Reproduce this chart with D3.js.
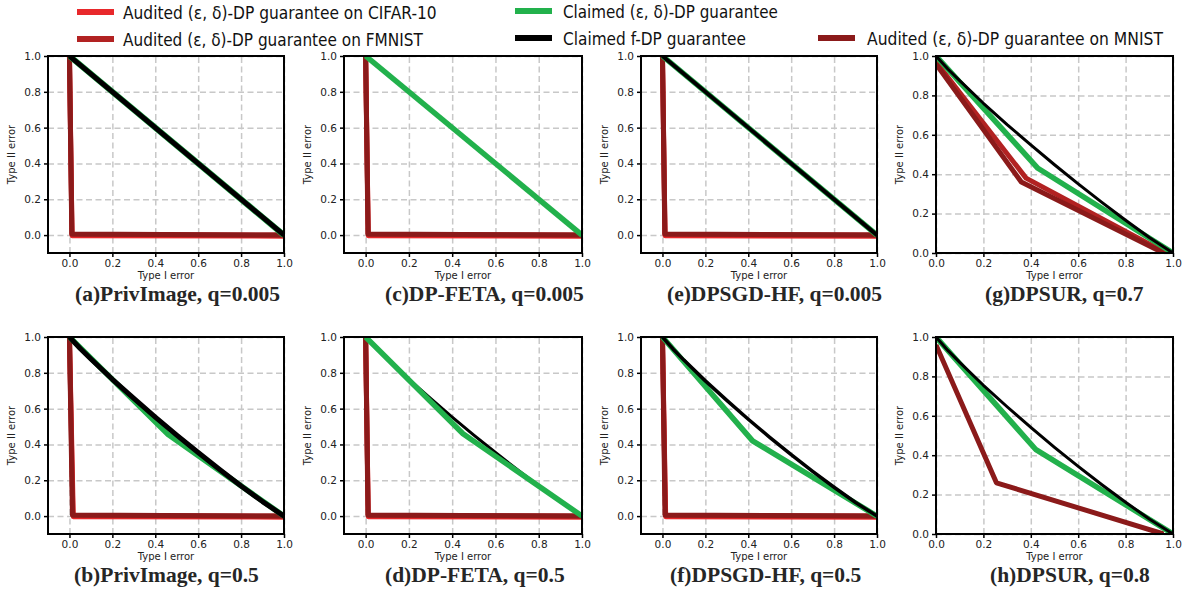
<!DOCTYPE html>
<html><head><meta charset="utf-8">
<script src="https://cdn.jsdelivr.net/npm/d3@7"></script>
<style>body{margin:0;background:#fff}svg{display:block}</style>
</head><body>
<svg id="chart" width="1186" height="596"></svg>
<script>
// ---------------- data ----------------
const panelTitles = [
  "(a)PrivImage, q=0.005", "(b)PrivImage, q=0.5",
  "(c)DP-FETA, q=0.005", "(d)DP-FETA, q=0.5",
  "(e)DPSGD-HF, q=0.005", "(f)DPSGD-HF, q=0.5",
  "(g)DPSUR, q=0.7", "(h)DPSUR, q=0.8"
];
const tickValues = [0.0, 0.2, 0.4, 0.6, 0.8, 1.0];
const tickLabels = ["0.0", "0.2", "0.4", "0.6", "0.8", "1.0"];
const xAxisLabel = "Type I error";
const yAxisLabel = "Type II error";
const legendLabels = [
  "Audited (ε, δ)-DP guarantee on CIFAR-10",
  "Audited (ε, δ)-DP guarantee on FMNIST",
  "Claimed (ε, δ)-DP guarantee",
  "Claimed f-DP guarantee",
  "Audited (ε, δ)-DP guarantee on MNIST"
];

// series, one entry per panel (a..h); each is a list of [type I error, type II error]
const auditedCifar = [
  [[0,1],[0.012,-0.004],[1,-0.006]],
  [[0,1],[0.018,-0.004],[1,-0.006]],
  [[0,1],[0.012,-0.004],[1,-0.006]],
  [[0,1],[0.012,-0.004],[1,-0.006]],
  [[0,1],[0.012,-0.004],[1,-0.006]],
  [[0,1],[0.015,-0.004],[1,-0.006]],
  null,
  null
];
const auditedFmnist = [
  [[0,1],[0.012,0.004],[1,0.0]],
  [[0,1],[0.016,0.004],[1,0.0]],
  [[0,1],[0.012,0.004],[1,0.0]],
  [[0,1],[0.012,0.004],[1,0.0]],
  [[0,1],[0.012,0.004],[1,0.0]],
  [[0,1],[0.014,0.004],[1,0.0]],
  [[0,0.97],[0.38,0.38],[0.97,0]],
  null
];
const auditedMnist = [
  [[0,1],[0.011,0.006],[1,0.0]],
  [[0,1],[0.014,0.006],[1,0.0]],
  [[0,1],[0.011,0.006],[1,0.0]],
  [[0,1],[0.011,0.006],[1,0.0]],
  [[0,1],[0.011,0.006],[1,0.0]],
  [[0,1],[0.012,0.006],[1,0.0]],
  [[0,0.96],[0.36,0.36],[0.96,0]],
  [[0,0.96],[0.255,0.26],[0.96,0]]
];
const claimedEpsDelta = [
  [[0,1],[1,0]],
  [[0,1],[0.46,0.455],[1,0]],
  [[0,1],[1,0]],
  [[0,1],[0.45,0.46],[1,0]],
  [[0,1],[1,0]],
  [[0,1],[0.42,0.42],[1,0]],
  [[0,1],[0.43,0.43],[1,0]],
  [[0,1],[0.42,0.43],[1,0]]
];
const claimedFdp = [
  [[0,1],[1,0]],
  [[0,1],[0.05,0.936],[0.1,0.877],[0.2,0.764],[0.3,0.657],[0.4,0.553],[0.5,0.452],[0.6,0.355],[0.7,0.26],[0.8,0.168],[0.9,0.081],[1,0]],
  [[0,1],[1,0]],
  [[0,1],[0.05,0.936],[0.1,0.877],[0.2,0.764],[0.3,0.657],[0.4,0.553],[0.5,0.452],[0.6,0.355],[0.7,0.26],[0.8,0.168],[0.9,0.081],[1,0]],
  [[0,1],[1,0]],
  [[0,1],[0.05,0.932],[0.1,0.871],[0.2,0.755],[0.3,0.646],[0.4,0.541],[0.5,0.44],[0.6,0.343],[0.7,0.25],[0.8,0.161],[0.9,0.076],[1,0]],
  [[0,1],[0.05,0.934],[0.1,0.875],[0.2,0.76],[0.3,0.652],[0.4,0.549],[0.5,0.448],[0.6,0.351],[0.7,0.257],[0.8,0.166],[0.9,0.079],[1,0]],
  [[0,1],[0.05,0.932],[0.1,0.871],[0.2,0.755],[0.3,0.646],[0.4,0.541],[0.5,0.44],[0.6,0.343],[0.7,0.25],[0.8,0.161],[0.9,0.076],[1,0]]
];

// ---------------- layout / style ----------------
const colX = [[48,284],[344,582],[641,877],[936,1173]];
const rowY = [[56,253],[337,534]];
const titleX = [75,74,385,385,667,670,985,990];
const blackWidth = [5,5,3,3,4,3.5,3,3];
const greenWidth = [6,5.5,5.5,5.5,5.5,5.5,5.5,5.5];
const greenOnTop = [false,false,true,true,false,false,false,false];
const C = {cifar:"#e8282b", fmnist:"#b22222", mnist:"#8b1a1a", green:"#22b14c", black:"#000000"};

const svg = d3.select("#chart");
const defs = svg.append("defs");
const FONT = "DejaVu Sans, sans-serif";

for (let i = 0; i < 8; i++) {
  const col = Math.floor(i / 2), row = i % 2;
  const [x0, x1] = colX[col], [y0, y1] = rowY[row];
  const lo = col < 3 ? -0.1 : 0;
  const x = d3.scaleLinear().domain([lo, 1]).range([x0, x1]);
  const y = d3.scaleLinear().domain([lo, 1]).range([y1, y0]);
  const g = svg.append("g");

  defs.append("clipPath").attr("id", "clip" + i)
    .append("rect").attr("x", x0).attr("y", y0).attr("width", x1 - x0).attr("height", y1 - y0);

  // grid
  const styleGrid = s => {
    s.select(".domain").remove();
    s.selectAll("line").attr("stroke", "#c8c8c8").attr("stroke-width", 1.5).attr("stroke-dasharray", "6,3.5");
  };
  g.append("g").attr("transform", `translate(0,${y1})`)
    .call(d3.axisBottom(x).tickValues(tickValues).tickSize(-(y1 - y0)).tickFormat(""))
    .call(styleGrid);
  g.append("g").attr("transform", `translate(${x0},0)`)
    .call(d3.axisLeft(y).tickValues(tickValues).tickSize(-(x1 - x0)).tickFormat(""))
    .call(styleGrid);

  // lines
  const line = d3.line().x(d => x(d[0])).y(d => y(d[1]));
  const lg = g.append("g").attr("clip-path", `url(#clip${i})`);
  const draw = (data, color, w) => {
    if (!data) return;
    lg.append("path").datum(data).attr("d", line).attr("fill", "none")
      .attr("stroke", color).attr("stroke-width", w)
      .attr("stroke-linejoin", "round").attr("stroke-linecap", "butt");
  };
  draw(auditedCifar[i], C.cifar, 5);
  draw(auditedFmnist[i], C.fmnist, 5);
  draw(auditedMnist[i], C.mnist, 5);
  if (greenOnTop[i]) {
    draw(claimedFdp[i], C.black, blackWidth[i]);
    draw(claimedEpsDelta[i], C.green, greenWidth[i]);
  } else {
    draw(claimedEpsDelta[i], C.green, greenWidth[i]);
    draw(claimedFdp[i], C.black, blackWidth[i]);
  }

  // axes
  const styleAxis = s => {
    s.select(".domain").remove();
    s.selectAll("line").attr("stroke", "#000").attr("stroke-width", 1.5);
    s.selectAll("text").attr("font-family", FONT).attr("font-size", 10.5).attr("fill", "#222");
  };
  g.append("g").attr("transform", `translate(0,${y1})`)
    .call(d3.axisBottom(x).tickValues(tickValues).tickFormat((d, k) => tickLabels[k]).tickSize(4).tickPadding(2.5))
    .call(styleAxis);
  g.append("g").attr("transform", `translate(${x0},0)`)
    .call(d3.axisLeft(y).tickValues(tickValues).tickFormat((d, k) => tickLabels[k]).tickSize(4).tickPadding(3))
    .call(styleAxis);

  // spines
  g.append("rect").attr("x", x0).attr("y", y0).attr("width", x1 - x0).attr("height", y1 - y0)
    .attr("fill", "none").attr("stroke", "#000").attr("stroke-width", 2);

  // axis labels
  g.append("text").attr("x", (x0 + x1) / 2).attr("y", y1 + 26)
    .attr("text-anchor", "middle").attr("font-family", FONT).attr("font-size", 10).attr("fill", "#222")
    .text(xAxisLabel);
  g.append("text").attr("transform", `translate(${x0 - 33},${(y0 + y1) / 2}) rotate(-90)`)
    .attr("text-anchor", "middle").attr("font-family", FONT).attr("font-size", 10).attr("fill", "#222")
    .text(yAxisLabel);

  // title
  g.append("text").attr("x", titleX[i]).attr("y", y1 + 48)
    .attr("font-family", "Liberation Serif, Times New Roman, serif").attr("font-weight", "bold")
    .attr("font-size", 21.5).attr("fill", "#262626")
    .text(panelTitles[i]);
}

// legend
const legendItems = [
  {label: legendLabels[0], color: C.cifar, lx: 77, tx: 123, y: 12, w: 314},
  {label: legendLabels[1], color: C.fmnist, lx: 77, tx: 123, y: 39, w: 300},
  {label: legendLabels[2], color: C.green, lx: 515, tx: 563, y: 11, w: 215},
  {label: legendLabels[3], color: C.black, lx: 515, tx: 563, y: 38, w: 183},
  {label: legendLabels[4], color: C.mnist, lx: 818, tx: 867, y: 38, w: 296}
];
const lgd = svg.append("g");
legendItems.forEach(it => {
  lgd.append("line").attr("x1", it.lx).attr("x2", it.lx + 37).attr("y1", it.y).attr("y2", it.y)
    .attr("stroke", it.color).attr("stroke-width", 6);
  const t = lgd.append("text").attr("x", 0).attr("y", 0)
    .attr("font-family", FONT).attr("font-size", 18).attr("fill", "#111")
    .text(it.label);
  const len = t.node().getComputedTextLength();
  const sx = len > 0 ? it.w / len : 1;
  t.attr("transform", `translate(${it.tx},${it.y + 6.5}) scale(${sx},1)`);
});
</script>
</body></html>
